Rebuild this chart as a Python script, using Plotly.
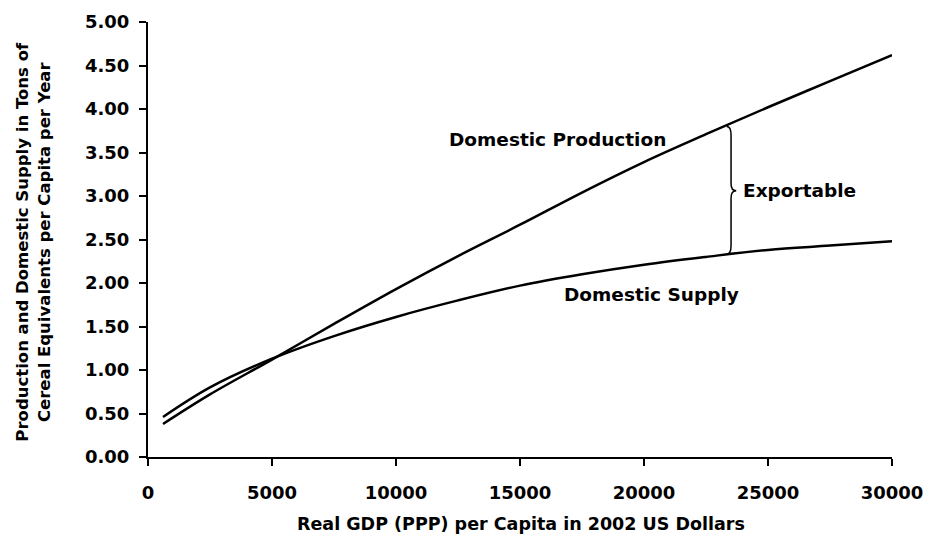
import plotly.graph_objects as go

gdp = [605, 2500, 5000, 7500, 10000, 12500, 15000, 17500, 20000, 22500, 25000, 27500, 30000]
production = [0.38, 0.72, 1.12, 1.53, 1.93, 2.31, 2.67, 3.04, 3.39, 3.71, 4.02, 4.32, 4.62]
supply = [0.46, 0.80, 1.13, 1.39, 1.61, 1.80, 1.97, 2.10, 2.21, 2.30, 2.38, 2.43, 2.48]

y_ticks = [0, 0.5, 1, 1.5, 2, 2.5, 3, 3.5, 4, 4.5, 5]
x_ticks = [0, 5000, 10000, 15000, 20000, 25000, 30000]

FONT = "DejaVu Sans, Liberation Sans, Arial, sans-serif"

fig = go.Figure()
fig.add_trace(go.Scatter(x=gdp, y=production, mode="lines", name="Domestic Production",
                         line=dict(color="black", width=2.5, shape="spline")))
fig.add_trace(go.Scatter(x=gdp, y=supply, mode="lines", name="Domestic Supply",
                         line=dict(color="black", width=2.5, shape="spline")))

# curly brace marking the exportable gap
bx0, bx1, bx2 = 23335, 23510, 23720
yt, ym, yb = 3.80, 3.06, 2.33
path = (f"M {bx0},{yt} Q {bx1},{yt} {bx1},{yt-0.1} L {bx1},{ym+0.08} "
        f"Q {bx1},{ym} {bx2},{ym} Q {bx1},{ym} {bx1},{ym-0.08} "
        f"L {bx1},{yb+0.1} Q {bx1},{yb} {bx0},{yb}")
fig.add_shape(type="path", path=path, xref="x", yref="y",
              line=dict(color="black", width=1.5))

lab_font = dict(family=FONT, size=18.5, color="black")
fig.add_annotation(x=16512, y=3.65, text="<b>Domestic Production</b>", showarrow=False, font=lab_font)
fig.add_annotation(x=20302, y=1.87, text="<b>Domestic Supply</b>", showarrow=False, font=lab_font)
fig.add_annotation(x=23900, y=3.06, text="<b>Exportable</b>", showarrow=False, xanchor="left", font=lab_font)

# axis titles
fig.add_annotation(x=0.501, y=-0.154, xref="paper", yref="paper", xanchor="center", yanchor="middle",
                   text="<b>Real GDP (PPP) per Capita in 2002 US Dollars</b>",
                   showarrow=False, font=dict(family=FONT, size=17.5, color="black"))
fig.add_annotation(x=-0.1546, y=0.495, xref="paper", yref="paper", xanchor="center", yanchor="middle",
                   textangle=-90,
                   text="<b>Production and Domestic Supply in Tons of<br>Cereal Equivalents per Capita per Year</b>",
                   showarrow=False, font=dict(family=FONT, size=16.5, color="black"))

tick_font = dict(family=FONT, size=18, color="black")
fig.update_layout(
    width=929, height=548,
    margin=dict(l=148, r=37, t=22, b=91, autoexpand=False),
    paper_bgcolor="white", plot_bgcolor="white",
    showlegend=False,
    font=dict(family=FONT, size=18, color="black"),
    xaxis=dict(range=[0, 30000], tickvals=x_ticks, ticktext=[f"<b>{v}</b>" for v in x_ticks],
               tickfont=tick_font, automargin=False,
               showgrid=False, zeroline=False, showline=True, linecolor="black", linewidth=2,
               ticks="outside", ticklen=7, tickwidth=2, tickcolor="black",
               ticklabelstandoff=11),
    yaxis=dict(range=[0, 5], tickvals=y_ticks, ticktext=[f"<b>{v:.2f}</b>" for v in y_ticks],
               tickfont=tick_font, automargin=False,
               showgrid=False, zeroline=False, showline=True, linecolor="black", linewidth=2,
               ticks="outside", ticklen=7, tickwidth=2, tickcolor="black",
               ticklabelstandoff=6),
)

fig.write_html("out.html", config={"displayModeBar": False},
               post_script="document.body.style.margin='0';")
